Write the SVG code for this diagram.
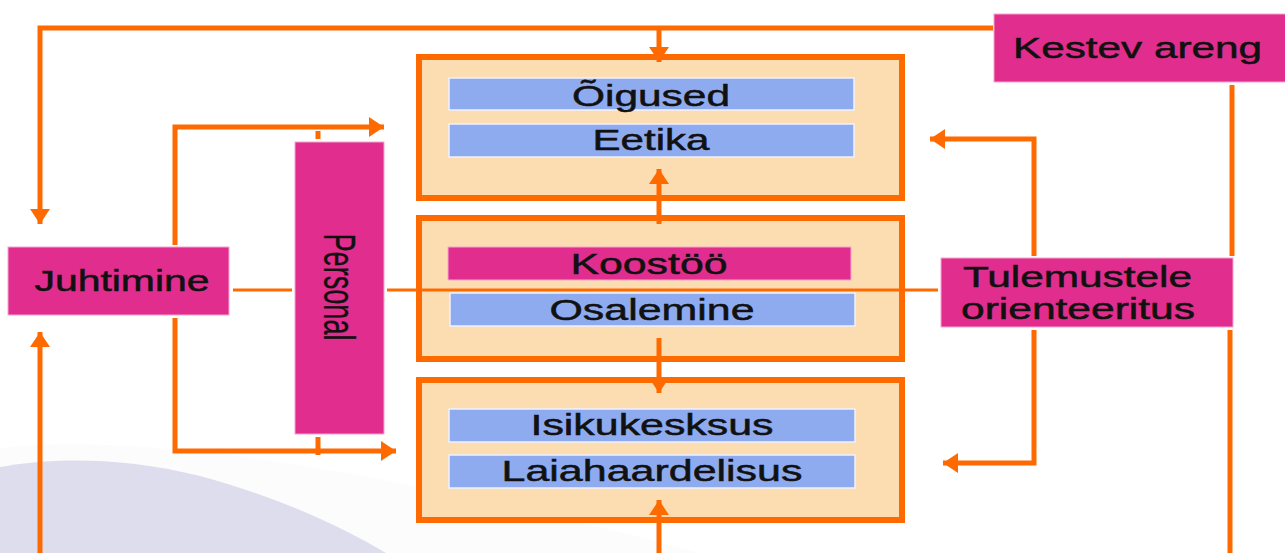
<svg xmlns="http://www.w3.org/2000/svg" width="1285" height="553" viewBox="0 0 1285 553">
  <style>
    .wire { fill: none; stroke: #FF6A00; stroke-width: 5; stroke-linejoin: miter; }
    .thin { fill: none; stroke: #FF6A00; stroke-width: 3; }
    .frame { fill: #FCDDB1; stroke: #FF6A00; stroke-width: 6; }
    .pink { fill: #E12D8D; stroke: #F6A6CF; stroke-width: 1; }
    .blue { fill: #8FABF0; stroke: #EEF2FF; stroke-width: 1.5; }
    .label { font-family: "Liberation Sans", Arial, sans-serif; font-size: 29px; fill: #111; stroke: #111; stroke-width: 0.5; }
    .mid { text-anchor: middle; }
  </style>
  <defs>
    <marker id="head" markerUnits="userSpaceOnUse" markerWidth="16" markerHeight="20" refX="15" refY="10" orient="auto">
      <path d="M0,0 L15,10 L0,20 Z" fill="#FF6A00"/>
    </marker>
  </defs>

  <!-- background swell -->
  <path d="M0,448 C 150,430 420,478 700,553 L0,553 Z" fill="#FCFCFD"/>
  <path d="M0,467 C 50,458 120,456 200,476 C 270,495 330,520 386,553 L0,553 Z" fill="#DDDDEE"/>

  <g id="frame-top">
    <rect class="frame" x="419" y="57" width="483" height="141"/>
    <rect class="blue" x="449" y="78" width="405" height="32"/>
    <text class="label mid" x="651" y="106" textLength="158" lengthAdjust="spacingAndGlyphs">Õigused</text>
    <rect class="blue" x="449" y="124" width="405" height="33"/>
    <text class="label mid" x="651" y="150" textLength="117" lengthAdjust="spacingAndGlyphs">Eetika</text>
  </g>

  <g id="frame-middle">
    <rect class="frame" x="419" y="218" width="483" height="141"/>
    <rect class="pink" x="448" y="247" width="403" height="33"/>
    <text class="label mid" x="649" y="274" textLength="157" lengthAdjust="spacingAndGlyphs">Koostöö</text>
    <rect class="blue" x="450" y="293" width="405" height="33"/>
    <text class="label mid" x="652" y="320" textLength="205" lengthAdjust="spacingAndGlyphs">Osalemine</text>
  </g>

  <g id="frame-bottom">
    <rect class="frame" x="419" y="380" width="483" height="140"/>
    <rect class="blue" x="449" y="409" width="406" height="33"/>
    <text class="label mid" x="652" y="435" textLength="243" lengthAdjust="spacingAndGlyphs">Isikukesksus</text>
    <rect class="blue" x="449" y="455" width="406" height="33"/>
    <text class="label mid" x="652" y="481" textLength="301" lengthAdjust="spacingAndGlyphs">Laiahaardelisus</text>
  </g>

  <g id="connectors">
    <!-- top feedback line from Kestev areng -->
    <polyline class="wire" points="993,28 40,28 40,224" marker-end="url(#head)"/>
    <line class="wire" x1="659" y1="28" x2="659" y2="62" marker-end="url(#head)"/>
    <line class="wire" x1="1232" y1="85" x2="1232" y2="256"/>
    <line class="wire" x1="1230" y1="330" x2="1230" y2="553"/>
    <!-- bottom feedback into Juhtimine -->
    <line class="wire" x1="40" y1="553" x2="40" y2="332" marker-end="url(#head)"/>
    <!-- Juhtimine to top and bottom frames -->
    <polyline class="wire" points="175,245 175,127 384,127" marker-end="url(#head)"/>
    <line class="wire" x1="318" y1="131" x2="318" y2="139"/>
    <polyline class="wire" points="175,318 175,451 396,451" marker-end="url(#head)"/>
    <line class="wire" x1="318" y1="437" x2="318" y2="455"/>
    <!-- central horizontal axis -->
    <line class="thin" x1="233" y1="290" x2="292" y2="290"/>
    <line class="thin" x1="387" y1="290" x2="938" y2="290"/>
    <!-- between frames -->
    <line class="wire" x1="659" y1="224" x2="659" y2="169" marker-end="url(#head)"/>
    <line class="wire" x1="659" y1="338" x2="659" y2="393" marker-end="url(#head)"/>
    <line class="wire" x1="659" y1="553" x2="659" y2="500" marker-end="url(#head)"/>
    <!-- Tulemustele orienteeritus to frames -->
    <polyline class="wire" points="1034,256 1034,139 930,139" marker-end="url(#head)"/>
    <polyline class="wire" points="1034,330 1034,463 943,463" marker-end="url(#head)"/>
  </g>

  <g id="juhtimine">
    <rect class="pink" x="8" y="247" width="221" height="68"/>
    <text class="label mid" x="122" y="291" textLength="175" lengthAdjust="spacingAndGlyphs">Juhtimine</text>
  </g>

  <g id="personal">
    <rect class="pink" x="295" y="142" width="89" height="292"/>
    <text class="label mid" transform="translate(324,287) rotate(90)" style="font-size:44px; stroke-width:0.3" textLength="107" lengthAdjust="spacingAndGlyphs">Personal</text>
  </g>

  <g id="kestev-areng">
    <rect class="pink" x="994" y="14" width="295" height="68"/>
    <text class="label" x="1013" y="58" textLength="249" lengthAdjust="spacingAndGlyphs">Kestev areng</text>
  </g>

  <g id="tulemustele">
    <rect class="pink" x="941" y="258" width="292" height="69"/>
    <text class="label" x="963" y="287" textLength="229" lengthAdjust="spacingAndGlyphs">Tulemustele</text>
    <text class="label" x="961" y="319" textLength="234" lengthAdjust="spacingAndGlyphs">orienteeritus</text>
  </g>
</svg>
